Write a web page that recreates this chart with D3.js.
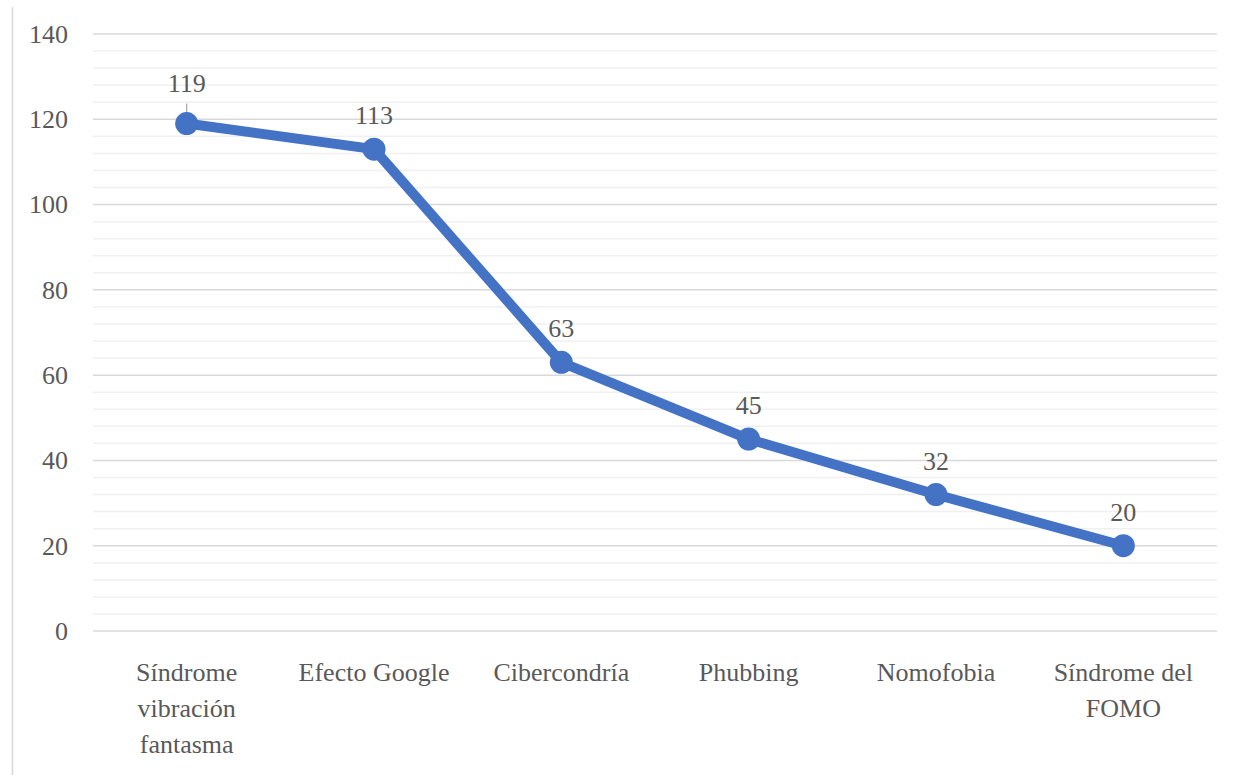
<!DOCTYPE html>
<html>
<head>
<meta charset="utf-8">
<script src="https://cdn.jsdelivr.net/npm/d3@7"></script>
<style>
  body { margin: 0; background: #fff; }
  text { font-family: "Liberation Serif", serif; fill: #595959; }
</style>
</head>
<body>
<div id="chart"></div>
<script>
let categories = ["Síndrome vibración fantasma", "Efecto Google", "Cibercondría", "Phubbing", "Nomofobia", "Síndrome del FOMO"];
let values = [119, 113, 63, 45, 32, 20];
let yTicks = [0, 20, 40, 60, 80, 100, 120, 140];

let width = 1243, height = 775;
let margin = {top: 34, right: 26, bottom: 144, left: 93};
let fontSize = "26px";

let svg = d3.select("#chart").append("svg")
    .attr("width", width)
    .attr("height", height);

// chart border on the left
svg.append("line")
    .attr("x1", 12.5).attr("x2", 12.5)
    .attr("y1", 7).attr("y2", height)
    .attr("stroke", "#d9d9d9")
    .attr("stroke-width", 1.5);

let x = d3.scaleBand()
    .domain(categories)
    .range([margin.left, width - margin.right]);

let y = d3.scaleLinear()
    .domain([0, 140])
    .range([height - margin.bottom, margin.top]);

// minor gridlines
svg.append("g")
    .selectAll("line")
    .data(d3.range(0, 141, 4).filter(d => d % 20 !== 0))
    .join("line")
    .attr("x1", margin.left).attr("x2", width - margin.right)
    .attr("y1", d => y(d)).attr("y2", d => y(d))
    .attr("stroke", "#f0f0f0")
    .attr("stroke-width", 1.5);

// major gridlines
svg.append("g")
    .selectAll("line")
    .data(yTicks)
    .join("line")
    .attr("x1", margin.left).attr("x2", width - margin.right)
    .attr("y1", d => y(d)).attr("y2", d => y(d))
    .attr("stroke", "#d9d9d9")
    .attr("stroke-width", 1.5);

let yAxis = svg.append("g")
    .attr("transform", `translate(${margin.left - 25},0)`)
    .call(d3.axisLeft(y).tickValues(yTicks).tickSize(0).tickPadding(0));
yAxis.select(".domain").remove();
yAxis.selectAll("text")
    .style("font-family", "Liberation Serif")
    .style("font-size", fontSize)
    .attr("fill", "#595959");

let xAxis = svg.append("g")
    .attr("transform", `translate(0,${height - margin.bottom})`)
    .call(d3.axisBottom(x).tickSize(0).tickPadding(0));
xAxis.select(".domain").remove();
xAxis.selectAll("text")
    .style("font-family", "Liberation Serif")
    .style("font-size", fontSize)
    .attr("fill", "#595959")
    .attr("dy", null)
    .call(wrap, x.bandwidth() - 14);

function wrap(sel, w) {
    sel.each(function() {
        let t = d3.select(this);
        let words = t.text().split(" ");
        t.text(null);
        let lines = [[]];
        let tmp = t.append("tspan");
        words.forEach(wd => {
            let cur = lines[lines.length - 1];
            tmp.text(cur.concat(wd).join(" "));
            if (cur.length && tmp.node().getComputedTextLength() > w) lines.push([wd]);
            else cur.push(wd);
        });
        tmp.remove();
        lines.forEach((l, i) => {
            t.append("tspan")
                .attr("x", 0)
                .attr("y", 50 + i * 36)
                .text(l.join(" "));
        });
    });
}

let line = d3.line()
    .x((d, i) => x(categories[i]) + x.bandwidth() / 2)
    .y(d => y(d));

svg.append("path")
    .datum(values)
    .attr("fill", "none")
    .attr("stroke", "#4472c4")
    .attr("stroke-width", 10)
    .attr("stroke-linejoin", "round")
    .attr("d", line);

// leader line for first label
svg.append("line")
    .attr("x1", x(categories[0]) + x.bandwidth() / 2)
    .attr("x2", x(categories[0]) + x.bandwidth() / 2)
    .attr("y1", y(values[0]) - 20)
    .attr("y2", y(values[0]))
    .attr("stroke", "#a6a6a6")
    .attr("stroke-width", 1.2);

svg.append("g")
    .selectAll("circle")
    .data(values)
    .join("circle")
    .attr("cx", (d, i) => x(categories[i]) + x.bandwidth() / 2)
    .attr("cy", d => y(d))
    .attr("r", 11.5)
    .attr("fill", "#4472c4");

svg.append("g")
    .selectAll("text")
    .data(values)
    .join("text")
    .attr("x", (d, i) => x(categories[i]) + x.bandwidth() / 2)
    .attr("y", (d, i) => y(d) - (i === 0 ? 32 : 25))
    .attr("text-anchor", "middle")
    .style("font-size", fontSize)
    .text(d => d);
</script>
</body>
</html>
